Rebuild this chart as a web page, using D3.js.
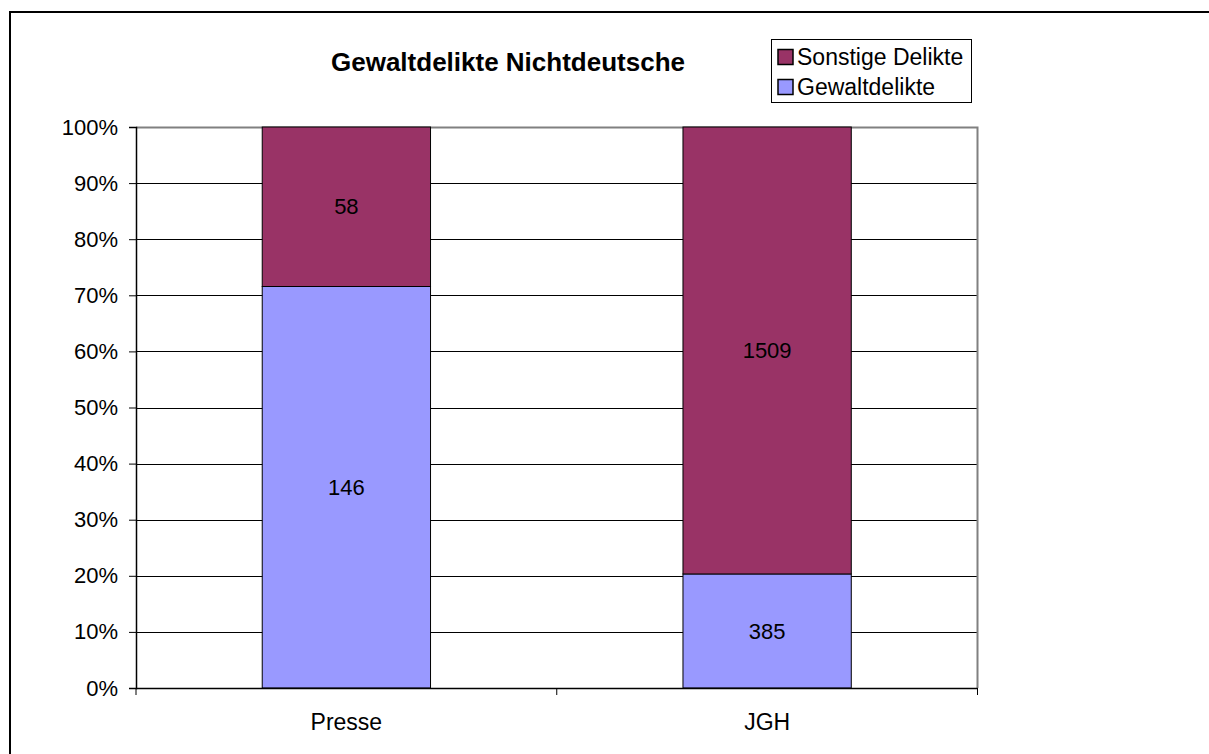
<!DOCTYPE html>
<html><head><meta charset="utf-8">
<script src="https://cdn.jsdelivr.net/npm/d3@7"></script>
<style>body{margin:0;background:#fff;}svg{display:block;font-family:"Liberation Sans",Arial,sans-serif;}</style>
</head><body><svg id="c" width="1209" height="754"></svg>
<script>
const categories = ["Presse", "JGH"];
const seriesNames = ["Gewaltdelikte", "Sonstige Delikte"];
const gewalt = [146, 385];
const sonstige = [58, 1509];
const yTicks = [0, 0.1, 0.2, 0.3, 0.4, 0.5, 0.6, 0.7, 0.8, 0.9, 1.0];
const colors = {"Gewaltdelikte": "#9999FF", "Sonstige Delikte": "#993366"};
const title = "Gewaltdelikte Nichtdeutsche";

const FS = 22;
const svg = d3.select("#c");
// outer border
svg.append("rect").attr("x", 10).attr("y", 12).attr("width", 1300).attr("height", 1000)
  .attr("fill", "none").attr("stroke", "#000").attr("stroke-width", 2);

const L = 136, R = 977.5, T = 127, B = 688;
const x = d3.scaleBand().domain(categories).range([L, R]).paddingInner(0).paddingOuter(0);
const y = d3.scaleLinear().domain([0, 1]).range([B, T]);

// gridlines
svg.append("g").selectAll("line").data(yTicks.slice(1, -1)).join("line")
  .attr("x1", L).attr("x2", R).attr("y1", d => Math.round(y(d)) + 0.5).attr("y2", d => Math.round(y(d)) + 0.5)
  .attr("stroke", "#000").attr("stroke-width", 1);
// plot border top/right grey
svg.append("path").attr("d", `M${L},${T}.5H${R}V${B}`).attr("fill", "none").attr("stroke", "#808080").attr("stroke-width", 2);

const data = categories.map((c, i) => {
  const tot = gewalt[i] + sonstige[i];
  return {c, g: gewalt[i], s: sonstige[i], gp: gewalt[i] / tot};
});
const bw = x.bandwidth() * 0.4;
const bars = svg.append("g");
data.forEach(d => {
  const cx = x(d.c) + x.bandwidth() / 2;
  bars.append("rect").attr("x", cx - bw / 2).attr("width", bw)
    .attr("y", y(d.gp)).attr("height", y(0) - y(d.gp))
    .attr("fill", colors["Gewaltdelikte"]).attr("stroke", "#000").attr("stroke-width", 1);
  bars.append("rect").attr("x", cx - bw / 2).attr("width", bw)
    .attr("y", y(1)).attr("height", y(d.gp) - y(1))
    .attr("fill", colors["Sonstige Delikte"]).attr("stroke", "#000").attr("stroke-width", 1);
  bars.append("text").attr("x", cx).attr("y", y(d.gp / 2)).attr("dy", "0.35em")
    .attr("text-anchor", "middle").attr("font-size", FS).text(d.g);
  bars.append("text").attr("x", cx).attr("y", y((1 + d.gp) / 2)).attr("dy", "0.35em")
    .attr("text-anchor", "middle").attr("font-size", FS).text(d.s);
});

// y axis
const ya = svg.append("g").attr("transform", `translate(${L},0)`)
  .call(d3.axisLeft(y).tickValues(yTicks).tickFormat(d3.format(".0%")).tickSize(7).tickPadding(11));
ya.select(".domain").attr("stroke", "#000").attr("stroke-width", 1.5);
ya.selectAll(".tick line").attr("stroke", "#000");
ya.selectAll("text").attr("font-size", FS).attr("fill", "#000").attr("font-family", "Liberation Sans, Arial, sans-serif");

// x axis
const xa = svg.append("g").attr("transform", `translate(0,${B})`)
  .call(d3.axisBottom(x).tickSize(0).tickPadding(26));
xa.select(".domain").remove();
svg.append("line").attr("x1", L).attr("x2", R).attr("y1", B + 0.5).attr("y2", B + 0.5).attr("stroke", "#000").attr("stroke-width", 1.5);
svg.append("g").selectAll("line").data([0, 1, 2]).join("line")
  .attr("x1", i => L + i * x.bandwidth()).attr("x2", i => L + i * x.bandwidth())
  .attr("y1", B).attr("y2", B + 7).attr("stroke", "#000");
xa.selectAll("text").attr("font-size", 23).attr("fill", "#000").attr("font-family", "Liberation Sans, Arial, sans-serif");

// title
svg.append("text").attr("x", 508).attr("y", 71).attr("text-anchor", "middle")
  .attr("font-size", 26).attr("font-weight", "bold").text(title);

// legend
const lg = svg.append("g");
lg.append("rect").attr("x", 771.5).attr("y", 39.5).attr("width", 200).attr("height", 63)
  .attr("fill", "#fff").attr("stroke", "#000").attr("stroke-width", 1);
["Sonstige Delikte", "Gewaltdelikte"].forEach((s, i) => {
  const yy = 57 + i * 30;
  lg.append("rect").attr("x", 778).attr("y", yy - 7.5).attr("width", 15).attr("height", 15)
    .attr("fill", colors[s]).attr("stroke", "#000").attr("stroke-width", 1.5);
  lg.append("text").attr("x", 797).attr("y", yy).attr("dy", "0.35em").attr("font-size", 23).text(s);
});
</script></body></html>
